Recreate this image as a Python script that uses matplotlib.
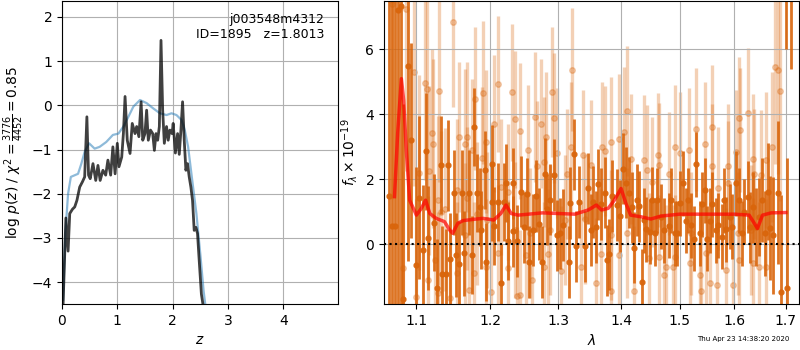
import matplotlib
matplotlib.use("Agg")
import matplotlib.pyplot as plt
import matplotlib.ticker as mticker

# left panel: p(z)
z_pz = [0.02, 0.07, 0.11, 0.14, 0.19, 0.23, 0.27, 0.32, 0.37, 0.41, 0.45, 0.48, 0.51, 0.56,
        0.61, 0.65, 0.69, 0.74, 0.79, 0.83, 0.88, 0.92, 0.96, 1.00, 1.03, 1.08, 1.11, 1.14,
        1.18, 1.23, 1.27, 1.32, 1.35, 1.39, 1.43, 1.46, 1.50, 1.53, 1.56, 1.60, 1.64, 1.67,
        1.70, 1.73, 1.76, 1.79, 1.82, 1.85, 1.89, 1.92, 1.95, 1.99, 2.01, 2.05, 2.09, 2.12,
        2.15, 2.18, 2.21, 2.24, 2.27, 2.30, 2.33, 2.36, 2.39, 2.42, 2.45, 2.48, 2.52, 2.56]
logp = [-4.5, -2.55, -3.3, -2.45, -2.35, -2.3, -2.15, -1.85, -1.73, -1.62, -0.26, -1.58, -1.66, -1.32,
        -1.7, -1.36, -1.7, -1.47, -1.58, -1.24, -1.58, -0.94, -1.55, -0.86, -1.39, -1.17, -0.64, 0.2,
        -0.79, -1.09, -0.41, -0.64, -0.48, -0.71, 0.08, -0.79, -0.64, -0.11, -0.79, -0.56, -0.64, -1.02,
        -0.64, -0.79, -0.48, 1.47, -0.11, -0.86, -0.48, -0.79, -0.56, -0.64, -0.41, -1.08, -0.64, -1.11,
        -0.56, 0.08, -0.79, -1.47, -1.32, -1.62, -1.85, -2.15, -2.83, -2.76, -2.9, -3.5, -4.27, -4.6]

z_prior = [0.02, 0.06, 0.11, 0.16, 0.29, 0.35, 0.41, 0.49, 0.59, 0.68, 0.80, 0.92, 1.02, 1.11,
           1.20, 1.29, 1.41, 1.53, 1.65, 1.77, 1.89, 1.98, 2.07, 2.16, 2.22, 2.28, 2.34, 2.43,
           2.50, 2.56, 2.60]
logp_prior = [-4.4, -2.9, -2.0, -1.62, -1.55, -1.32, -1.05, -0.86, -0.98, -0.94, -0.83, -0.67, -0.64, -0.48,
              -0.26, -0.03, 0.12, 0.05, -0.07, -0.18, -0.22, -0.18, -0.22, -0.33, -0.56, -0.94, -1.55, -2.45,
              -3.36, -4.2, -4.6]

# right panel: spectrum, grism points (dark)
wave_a = [1.065, 1.069, 1.073, 1.077, 1.080, 1.083, 1.089, 1.093, 1.099, 1.103, 1.109, 1.112, 1.115,
          1.123, 1.127, 1.132, 1.134, 1.139, 1.142, 1.145, 1.150, 1.153, 1.157, 1.161, 1.164, 1.170,
          1.175, 1.177, 1.181, 1.185, 1.187, 1.192, 1.194, 1.202, 1.203, 1.206, 1.211, 1.215, 1.219,
          1.222, 1.226, 1.232, 1.233, 1.239, 1.244,
          1.249, 1.253, 1.256, 1.262, 1.266, 1.271, 1.275, 1.280, 1.283, 1.288, 1.294, 1.298, 1.303,
          1.307, 1.316, 1.319, 1.324, 1.328, 1.333, 1.341, 1.347, 1.351, 1.354, 1.360, 1.363, 1.368,
          1.373, 1.377, 1.381, 1.385, 1.393, 1.399, 1.404, 1.409, 1.413, 1.418, 1.422, 1.426, 1.430,
          1.435, 1.439, 1.442, 1.448, 1.452, 1.457,
          1.461, 1.467, 1.473, 1.481, 1.485, 1.491, 1.495, 1.500, 1.506, 1.511, 1.515, 1.521, 1.525,
          1.530, 1.536, 1.541, 1.545, 1.550, 1.555, 1.559, 1.565, 1.570, 1.576, 1.580, 1.585, 1.591,
          1.596, 1.603, 1.608, 1.615, 1.619, 1.625, 1.630, 1.635, 1.641, 1.647, 1.652, 1.659, 1.664,
          1.669, 1.675, 1.685, 1.690, 1.700, 1.702, 1.711]
flux_a = [1.49, 0.57, 0.56, 7.2, 7.35, -1.69, 5.5, 3.2, -0.62, 1.44, -0.18, 2.87, 0.19,
          0.67, -1.33, 2.44, -0.92, -0.92, 2.44, -0.44, 1.59, -0.33, -0.59, 1.59, -0.28, 1.59,
          -0.34, 3.6, 1.59, 1.14, 0.44, 2.29, -0.54, 1.31, 2.47, 0.58, 1.31, -1.18, 1.31,
          1.9, 0.1, 1.88, 0.4, 0.1, 1.62,
          0.52, 1.55, -0.54, 0.44, 1.49, 0.63, -0.54, 2.18, 1.08, 1.38, 2.13, 0.28, 0.34,
          0.59, -0.54, 1.28, 2.77, -0.06, 1.31, -0.06, 1.72, 0.44, 1.31, 0.54, 1.85, 1.24,
          1.59, -0.49, -0.31, 1.49, 1.21, 0.87, 2.33, 1.9, 1.59, 1.14, -0.1, 1.36, 1.17,
          -1.15, 0.74, 0.46, 0.39, 1.38, 0.34,
          1.36, 0.85, 0.44, 0.58, 1.36, 0.34, 0.34, 1.26, 1.88, 0.73, 1.36, 0.59, 0.18,
          2.47, 0.34, 1.24, 1.67, 0.18, 0.73, 1.24, 0.44, 0.59, 0.23, 1.36, 0.46, 0.85,
          0.54, 1.88, 1.36, 0.34, 1.0, 1.46, 0.52, 1.14, 0.54, 0.85, 1.36, 0.34, 1.62,
          0.49, 0.28, 1.59, -1.48, 9.0, -1.33, 9.0]
err_a = [10, 10, 10, 10, 10, 6, 6, 3.0, 3.0, 2.5, 2.0, 1.8, 1.6,
         1.5, 1.5, 1.5, 1.5, 1.4, 1.4, 1.4, 1.3, 1.3, 1.3, 1.3, 1.3, 1.3,
         1.2, 1.2, 1.2, 1.2, 1.2, 1.2, 1.2, 1.2, 1.2, 1.2, 1.2, 1.2, 1.2,
         1.2, 1.2, 1.1, 1.1, 1.1, 1.1,
         1.1, 1.1, 1.1, 1.1, 1.1, 1.1, 1.1, 1.1, 1.1, 1.1, 1.1, 1.1, 1.1,
         1.1, 1.1, 1.1, 1.1, 1.1, 1.1, 1.1, 1.1, 1.1, 1.1, 1.1, 1.1, 1.1,
         1.1, 1.1, 1.1, 1.1, 1.1, 1.1, 1.1, 1.1, 1.1, 1.1, 1.1, 1.1, 1.1,
         1.0, 1.0, 1.0, 1.0, 1.0, 1.0,
         1.0, 1.0, 1.0, 1.0, 1.0, 1.0, 1.0, 1.0, 1.0, 1.0, 1.0, 1.0, 1.0,
         1.0, 1.0, 1.0, 1.0, 1.0, 1.0, 1.0, 1.0, 1.0, 1.0, 1.0, 1.0, 1.0,
         1.0, 1.0, 1.0, 1.0, 1.0, 1.1, 1.1, 1.1, 1.2, 1.2, 1.3, 1.3, 1.5,
         1.6, 1.8, 2.2, 3.0, 3.0, 4.0, 3.6]

# second set of grism points (light)
wave_b = [1.069, 1.087, 1.097, 1.111, 1.114, 1.130, 1.148, 1.121, 1.122, 1.104, 1.116, 1.128, 1.133,
          1.138, 1.083, 1.099, 1.115, 1.124, 1.128, 1.145, 1.156, 1.167, 1.165, 1.178, 1.190, 1.175,
          1.188, 1.194, 1.211, 1.206, 1.231, 1.236, 1.243, 1.154, 1.167, 1.181, 1.195, 1.216, 1.225,
          1.165, 1.177, 1.194, 1.211, 1.225, 1.171, 1.201, 1.239, 1.154, 1.236,
          1.265, 1.274, 1.282, 1.290, 1.293, 1.322, 1.320, 1.254, 1.268, 1.278, 1.298, 1.313, 1.339,
          1.352, 1.369, 1.374, 1.384, 1.396, 1.405, 1.410, 1.416, 1.439, 1.443, 1.452, 1.257, 1.288,
          1.310, 1.341, 1.384, 1.410, 1.251, 1.278, 1.284, 1.304, 1.336, 1.368, 1.383, 1.397, 1.422,
          1.447, 1.261, 1.360, 1.243,
          1.491, 1.500, 1.516, 1.529, 1.545, 1.558, 1.559, 1.588, 1.608, 1.611, 1.625, 1.635, 1.660,
          1.673, 1.678, 1.685, 1.689, 1.462, 1.464, 1.482, 1.570, 1.588, 1.603, 1.638, 1.651, 1.464,
          1.476, 1.488, 1.491, 1.518, 1.536, 1.548, 1.567, 1.584, 1.609, 1.635, 1.647, 1.660, 1.473,
          1.539, 1.555, 1.598, 1.521, 1.606, 1.632]
flux_b = [7.4, 7.26, 5.31, 4.97, 4.77, 4.72, 6.83, 3.42, 3.1, 2.2, 2.27, 1.36, 1.0,
          1.08, -0.74, -1.61, -1.1, -0.48, -1.51, -1.66, 3.31, 3.31, 3.09, 4.49, 4.67, 2.9,
          2.65, 3.16, 4.93, 3.72, 4.68, 3.85, 3.49, 1.67, 1.42, 0.95, 0.75, 1.77, 1.62,
          0.29, -0.89, -0.69, -0.28, -0.74, -1.41, -1.46, -1.58, -0.89, 0.44,
          3.93, 3.72, 3.31, 4.68, 3.88, 5.38, 3.0, 2.92, 2.41, 2.54, 2.8, 2.18, 2.75,
          2.44, 3.0, 2.88, 3.16, 3.23, 3.47, 4.1, 2.62, 2.59, 2.29, 1.93, 0.34, 0.44,
          0.75, 0.77, 0.29, 0.34, -0.33, -0.69, -0.3, -0.81, -0.69, -0.3, -1.43, -0.33, -1.43,
          -0.43, -1.1, -1.18, -1.56,
          3.0, 2.8, 2.9, 3.54, 3.1, 3.62, 2.41, 2.41, 3.88, 3.52, 4.03, 2.62, 2.59,
          3.0, 5.47, 5.38, 4.72, 2.75, 2.44, 2.18, 1.72, 1.9, 2.85, 2.18, 2.13, -0.38,
          -0.69, -0.69, -0.38, -0.58, -0.94, -0.28, -1.25, -0.79, -0.48, -0.58, -0.69, -0.69, -0.94,
          -1.44, -1.2, -1.25, 0.34, 0.34, 0.44]
err_b = [6, 5, 3.5, 3.0, 3.0, 2.8, 2.6, 2.6, 2.6, 3.0, 2.6, 2.6, 2.5,
         2.5, 3.0, 3.0, 2.6, 2.5, 2.5, 2.4, 2.3, 2.3, 2.3, 2.2, 2.2, 2.2,
         2.2, 2.2, 2.1, 2.1, 2.1, 2.1, 2.1, 2.2, 2.2, 2.2, 2.1, 2.1, 2.1,
         2.2, 2.2, 2.1, 2.1, 2.1, 2.2, 2.1, 2.1, 2.2, 2.1,
         2.0, 2.0, 2.0, 2.0, 2.0, 1.9, 2.0, 2.0, 2.0, 2.0, 2.0, 2.0, 2.0,
         2.0, 2.0, 2.0, 2.0, 2.0, 2.0, 2.0, 2.0, 2.0, 2.0, 2.0, 2.0, 2.0,
         2.0, 2.0, 2.0, 2.0, 2.0, 2.0, 2.0, 2.0, 2.0, 2.0, 2.0, 2.0, 2.0,
         2.0, 2.0, 2.0, 2.0,
         1.9, 1.9, 1.9, 1.9, 1.9, 1.9, 1.9, 1.9, 1.9, 1.9, 2.0, 2.0, 2.1,
         2.3, 3.0, 3.2, 3.4, 1.9, 1.9, 1.9, 1.9, 1.9, 1.9, 2.0, 2.0, 1.9,
         1.9, 1.9, 1.9, 1.9, 1.9, 1.9, 1.9, 1.9, 1.9, 2.0, 2.0, 2.1, 1.9,
         1.9, 1.9, 1.9, 1.9, 1.9, 2.0]

# best-fit model
wave_m = [1.072, 1.076, 1.0807, 1.0836, 1.087, 1.0913, 1.100, 1.1065, 1.112, 1.1175, 1.126, 1.137,
          1.144, 1.148, 1.155, 1.162, 1.176, 1.190, 1.205, 1.215, 1.2225, 1.230, 1.240, 1.2555,
          1.276, 1.300, 1.326, 1.347, 1.360, 1.368, 1.379, 1.389, 1.400, 1.408, 1.416, 1.433,
          1.450, 1.467, 1.500, 1.549, 1.600, 1.628, 1.638, 1.644, 1.654, 1.671, 1.700]
flux_m = [1.47, 3.42, 5.1, 4.44, 2.9, 1.36, 0.9, 1.11, 1.36, 0.95, 0.8, 0.7,
          0.44, 0.34, 0.65, 0.73, 0.77, 0.8, 0.75, 0.95, 1.21, 0.95, 0.9, 0.93,
          0.97, 0.95, 0.93, 1.06, 1.21, 1.06, 1.11, 1.36, 1.72, 1.26, 0.9, 0.85,
          0.78, 0.87, 0.93, 0.93, 0.93, 0.9, 0.65, 0.49, 0.9, 0.97, 0.98]

obj_name = "j003548m4312"
obj_id = 1895
z_best = 1.8013
timestamp = "Thu Apr 23 14:38:20 2020"

orange = "#d9650b"

fig = plt.figure(figsize=(8, 3.5), dpi=100)
ax1 = fig.add_axes([0.0775, 0.131, 0.345, 0.866])
ax2 = fig.add_axes([0.480, 0.131, 0.519, 0.866])

# p(z)
ax1.plot(z_prior, logp_prior, color="tab:blue", alpha=0.5, lw=1.6)
ax1.plot(z_pz, logp, color="k", alpha=0.75, lw=2)
ax1.set_xlim(0, 4.99)
ax1.set_ylim(-4.5, 2.36)
ax1.set_xticks([0, 1, 2, 3, 4])
ax1.grid(True)
ax1.set_xlabel("$z$")
ax1.set_ylabel(r"log $p(z)$ / $\chi^2=\frac{3776}{4452}=0.85$")
ax1.text(0.95, 0.96, "{0}\nID={1}   z={2:.4f}".format(obj_name, obj_id, z_best),
         transform=ax1.transAxes, ha="right", va="top", fontsize=9)

# spectrum
ax2.errorbar(wave_b, flux_b, yerr=err_b, fmt="o", color=orange, alpha=0.3,
             ms=4, elinewidth=2.4, capsize=0, zorder=1)
ax2.errorbar(wave_a, flux_a, yerr=err_a, fmt="o", color=orange, alpha=0.9,
             ms=3.5, elinewidth=2, capsize=0, zorder=2)
ax2.plot(wave_m, flux_m, color="r", alpha=0.7, lw=2.5, zorder=3)
ax2.axhline(0, color="k", ls=":", lw=1.5, zorder=4)

ax2.set_xscale("log")
ax2.set_xlim(1.0588, 1.727)
ax2.set_ylim(-1.84, 7.49)
ax2.xaxis.set_major_locator(mticker.FixedLocator([1.1, 1.2, 1.3, 1.4, 1.5, 1.6, 1.7]))
ax2.xaxis.set_major_formatter(mticker.FormatStrFormatter("%.1f"))
ax2.xaxis.set_minor_locator(mticker.NullLocator())
ax2.set_yticks([0, 2, 4, 6])
ax2.grid(True)
ax2.set_xlabel(r"$\lambda$")
ax2.set_ylabel(r"$f_\lambda \times 10^{-19}$")

fig.text(0.871, 0.031, timestamp, fontsize=5, va="center", ha="left")

fig.savefig("out.png", dpi=100)
